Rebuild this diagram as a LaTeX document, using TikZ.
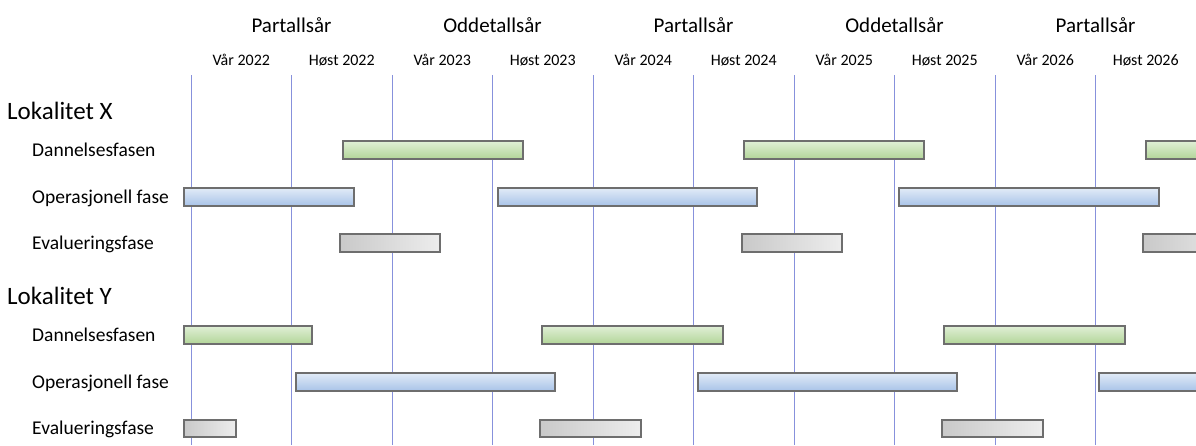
\documentclass[tikz,border=0pt]{standalone}
\usepackage{fontspec}
\setmainfont{Carlito}
\usepackage{xcolor}
\usepackage{tikz}
\usetikzlibrary{positioning}

\definecolor{gridblue}{HTML}{8791DC}
\definecolor{barline}{HTML}{6E6E6E}
\definecolor{greentop}{HTML}{E0EFD6}
\definecolor{greenbot}{HTML}{B2D598}
\definecolor{bluetop}{HTML}{E1EBF7}
\definecolor{bluebot}{HTML}{A8C3E8}
\definecolor{greyleft}{HTML}{C9C9C9}
\definecolor{greyright}{HTML}{EDEDED}

\begin{document}
\begin{tikzpicture}[x=1pt,y=-1pt,
  yr/.style={font=\fontsize{21}{24}\selectfont,anchor=base,inner sep=0pt},
  term/.style={font=\fontsize{16}{19}\selectfont,anchor=base,inner sep=0pt},
  site/.style={font=\fontsize{25}{28}\selectfont,anchor=base west,inner sep=0pt},
  phase/.style={font=\fontsize{19.5}{22}\selectfont,anchor=base west,inner sep=0pt},
  grid/.style={draw=gridblue,line width=1pt},
  bar/.style={draw=barline,line width=1.6pt},
  dan/.style={bar,top color=greentop,bottom color=greenbot},
  ops/.style={bar,top color=bluetop,bottom color=bluebot},
  eva/.style={bar,left color=greyleft,right color=greyright}]
\useasboundingbox (0,0) rectangle (1196,445);
\clip (0,0) rectangle (1196,445);

% years and terms
\foreach \i/\yr in {1/Partallsår,3/Oddetallsår,5/Partallsår,7/Oddetallsår,9/Partallsår}
  \node[yr] (yr\i) at (191+100.5*\i,32) {\yr};
\foreach \i/\t in {0/Vår 2022,1/Høst 2022,2/Vår 2023,3/Høst 2023,4/Vår 2024,
                   5/Høst 2024,6/Vår 2025,7/Høst 2025,8/Vår 2026,9/Høst 2026}
  \node[term] (t\i) at (241.25+100.5*\i,65) {\t};

% grid lines
\foreach \x in {191.5,291.5,392.5,492.5,593.5,693.5,794.5,894.5,995.5,1095.5}
  \draw[grid] (\x,75) -- (\x,445);

% row labels
\node[site] (lx) at (7,119) {Lokalitet X};
\node[phase] (xd) at (32,156) {Dannelsesfasen};
\node[phase] (xo) at (32,203) {Operasjonell fase};
\node[phase] (xe) at (32,249) {Evalueringsfase};
\node[site] (ly) at (7,304) {Lokalitet Y};
\node[phase] (yd) at (32,341) {Dannelsesfasen};
\node[phase] (yo) at (32,388) {Operasjonell fase};
\node[phase] (ye) at (32,434) {Evalueringsfase};

% Lokalitet X
\foreach \a/\b in {343/523,744/924,1146/1330}
  \draw[dan] (\a,141) rectangle (\b,159);
\foreach \a/\b in {184/354,498/757,899/1159}
  \draw[ops] (\a,188) rectangle (\b,206);
\foreach \a/\b in {340/440,742/842,1143/1243}
  \draw[eva] (\a,234) rectangle (\b,252);

% Lokalitet Y
\foreach \a/\b in {184/312,542/723,944/1125}
  \draw[dan] (\a,326) rectangle (\b,344);
\foreach \a/\b in {296/555,698/957,1099/1358}
  \draw[ops] (\a,373) rectangle (\b,391);
\foreach \a/\b in {184/236,540/641,942/1043}
  \draw[eva] (\a,420) rectangle (\b,437);
\end{tikzpicture}
\end{document}
